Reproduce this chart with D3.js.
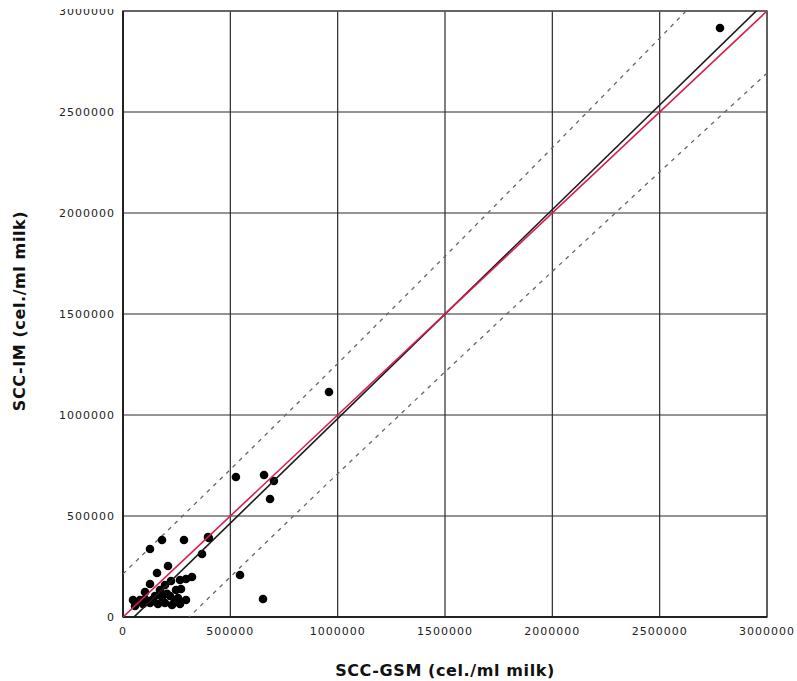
<!DOCTYPE html>
<html>
<head>
<meta charset="utf-8">
<script src="https://cdn.jsdelivr.net/npm/d3@7/dist/d3.min.js"></script>
<style>
  html, body { margin: 0; padding: 0; background: #fff; }
  svg { display: block; }
</style>
</head>
<body>
<svg id="chart" width="797" height="681"></svg>
<script>
// ---- data ----
const gsm = [2781000, 959600, 526000, 657000, 703000, 685000, 400000, 368000, 284000, 181700,
  125800, 396000, 545000, 652200, 209600, 158400, 125800, 102500, 79200, 93200,
  149100, 172400, 195600, 223600, 265500, 293500, 321400, 246900, 270200, 218900,
  256200, 293500, 265500, 195600, 163000, 125800, 228300, 181700, 135100, 55900,
  102500, 46600, 205000, 240000];
const im = [2916000, 1114000, 693000, 703000, 673000, 584000, 391000, 312000, 381000, 381200,
  336600, 396000, 207900, 89100, 252500, 217800, 163400, 123800, 84200, 64400,
  104000, 133700, 158400, 178200, 183200, 188100, 198000, 133700, 138600, 104000,
  94100, 84200, 64400, 69300, 64400, 69300, 59400, 99000, 84200, 54500,
  89100, 84200, 115000, 75000];
const ticks = [0, 500000, 1000000, 1500000, 2000000, 2500000, 3000000];
// fitted regression line: endpoints
const fitX = [0, 3000000];
const fitY = [-53000, 3052000];
// identity line
const idX = [0, 3000000];
const idY = [0, 3000000];
// prediction band
const bandX = [0, 500000, 1000000, 1500000, 2000000, 2500000, 3000000];
const bandUpper = [213400, 730100, 1254400, 1785700, 2323100, 2865400, 3411700];
const bandLower = [-319400, 198900, 709600, 1213300, 1710900, 2203600, 2692300];

// ---- layout ----
const svg = d3.select("#chart");
const L = 123, R = 767, T = 11, B = 617;
const x = d3.scaleLinear().domain([0, 3000000]).range([L, R]);
const y = d3.scaleLinear().domain([0, 3000000]).range([B, T]);

const defs = svg.append("defs");
defs.append("clipPath").attr("id", "clip")
  .append("rect").attr("x", L).attr("y", T).attr("width", R - L).attr("height", B - T);
// the reference picture is cropped just above the plot frame
defs.append("clipPath").attr("id", "pageclip")
  .append("rect").attr("x", 0).attr("y", 9).attr("width", 797).attr("height", 672);

// grid
const grid = svg.append("g");
grid.selectAll("line.v").data(ticks).join("line")
  .attr("x1", d => x(d)).attr("x2", d => x(d)).attr("y1", T).attr("y2", B)
  .attr("stroke", "#2b2b2b").attr("stroke-width", 1.2);
grid.selectAll("line.h").data(ticks).join("line")
  .attr("y1", d => y(d)).attr("y2", d => y(d)).attr("x1", L).attr("x2", R)
  .attr("stroke", "#2b2b2b").attr("stroke-width", 1.2);

// frame
svg.append("rect").attr("x", L).attr("y", T).attr("width", R - L).attr("height", B - T)
  .attr("fill", "none").attr("stroke", "#555").attr("stroke-width", 1.5);
svg.append("line").attr("x1", L).attr("x2", L).attr("y1", T).attr("y2", B)
  .attr("stroke", "#222").attr("stroke-width", 2);
svg.append("line").attr("x1", L).attr("x2", R).attr("y1", B).attr("y2", B)
  .attr("stroke", "#222").attr("stroke-width", 2);

const plot = svg.append("g").attr("clip-path", "url(#clip)");

// band lines
const bandLine = d3.line().x(d => x(d[0])).y(d => y(d[1]));
plot.append("path").attr("d", bandLine(bandX.map((v, i) => [v, bandUpper[i]])))
  .attr("fill", "none").attr("stroke", "#666").attr("stroke-width", 1.3).attr("stroke-dasharray", "4,5");
plot.append("path").attr("d", bandLine(bandX.map((v, i) => [v, bandLower[i]])))
  .attr("fill", "none").attr("stroke", "#666").attr("stroke-width", 1.3).attr("stroke-dasharray", "4,5");

// points
plot.selectAll("circle").data(gsm.map((v, i) => [v, im[i]])).join("circle")
  .attr("cx", d => x(d[0])).attr("cy", d => y(d[1])).attr("r", 4.3).attr("fill", "#000");

// fit line
plot.append("path").attr("d", bandLine(fitX.map((v, i) => [v, fitY[i]])))
  .attr("fill", "none").attr("stroke", "#1a1a1a").attr("stroke-width", 1.6);
// identity line
plot.append("path").attr("d", bandLine(idX.map((v, i) => [v, idY[i]])))
  .attr("fill", "none").attr("stroke", "#d81e4a").attr("stroke-width", 1.6);

// tick labels
const tickFont = "DejaVu Sans, sans-serif";
svg.append("g").selectAll("text").data(ticks).join("text")
  .attr("x", d => x(d)).attr("y", B + 18)
  .attr("text-anchor", "middle").attr("font-family", tickFont).attr("font-size", 11)
  .attr("letter-spacing", 1).attr("fill", "#222").text(d => d3.format("d")(d));
svg.append("g").attr("clip-path", "url(#pageclip)").selectAll("text").data(ticks).join("text")
  .attr("x", L - 8).attr("y", d => y(d) + 4)
  .attr("text-anchor", "end").attr("font-family", tickFont).attr("font-size", 11)
  .attr("letter-spacing", 1).attr("fill", "#222").text(d => d3.format("d")(d));

// axis titles
const titleFont = "DejaVu Sans, sans-serif";
svg.append("text").attr("x", (L + R) / 2).attr("y", 676)
  .attr("text-anchor", "middle").attr("font-family", titleFont)
  .attr("font-weight", "bold").attr("font-size", 16).attr("letter-spacing", 0.6).attr("fill", "#111")
  .text("SCC-GSM (cel./ml milk)");
svg.append("text").attr("transform", "translate(25,311) rotate(-90)")
  .attr("text-anchor", "middle").attr("font-family", titleFont)
  .attr("font-weight", "bold").attr("font-size", 16).attr("letter-spacing", 0.6).attr("fill", "#111")
  .text("SCC-IM (cel./ml milk)");
</script>
</body>
</html>
